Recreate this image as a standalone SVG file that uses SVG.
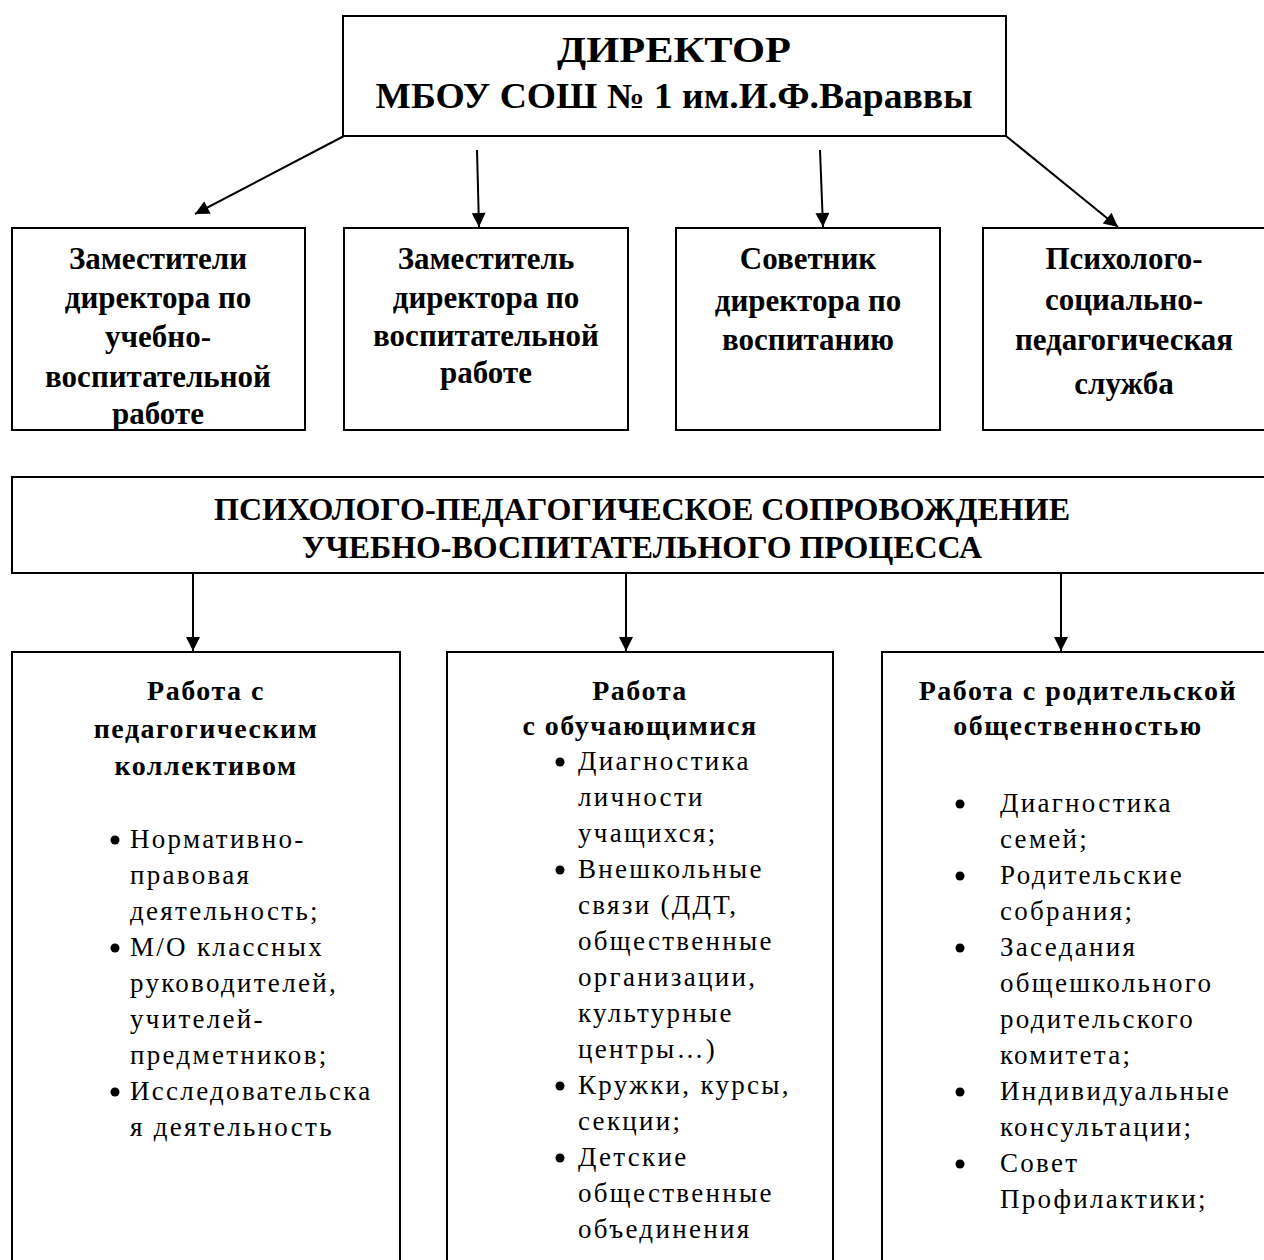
<svg xmlns="http://www.w3.org/2000/svg" width="1264" height="1260" viewBox="0 0 1264 1260">
<style>
rect.box{fill:#fff;stroke:#000;stroke-width:2}
.conn line{stroke:#000;stroke-width:2}
text{font-family:"Liberation Serif","Times New Roman",serif;fill:#000}
.t1{font-size:35px;font-weight:bold;text-anchor:middle}
.t2{font-size:31px;font-weight:bold;text-anchor:middle}
.t3{font-size:31px;font-weight:bold;text-anchor:middle}
.hd{font-size:28px;font-weight:bold;text-anchor:middle;letter-spacing:1.5px}
.li{font-size:27px;letter-spacing:2.3px}
circle.b{fill:#000}
</style>
<defs>
<marker id="ah" viewBox="0 0 10 10" refX="10" refY="5" markerWidth="18" markerHeight="14" markerUnits="userSpaceOnUse" orient="auto">
<path d="M0,0 L10,5 L0,10 z" fill="#000"/>
</marker>
</defs>

<g id="director">
<rect class="box" x="343" y="16" width="663" height="120"/>
<text class="t1" x="674" y="62" textLength="234" lengthAdjust="spacingAndGlyphs">ДИРЕКТОР</text>
<text class="t1" x="674" y="108" textLength="597" lengthAdjust="spacingAndGlyphs">МБОУ СОШ № 1 им.И.Ф.Вараввы</text>
</g>

<g id="deputy-uvr">
<rect class="box" x="12" y="228" width="293" height="202"/>
<text class="t2" x="158" y="269">Заместители</text>
<text class="t2" x="158" y="308">директора по</text>
<text class="t2" x="158" y="347">учебно-</text>
<text class="t2" x="158" y="387">воспитательной</text>
<text class="t2" x="158" y="424">работе</text>
</g>

<g id="deputy-vr">
<rect class="box" x="344" y="228" width="284" height="202"/>
<text class="t2" x="486" y="269">Заместитель</text>
<text class="t2" x="486" y="308">директора по</text>
<text class="t2" x="486" y="346">воспитательной</text>
<text class="t2" x="486" y="383">работе</text>
</g>

<g id="advisor">
<rect class="box" x="676" y="228" width="264" height="202"/>
<text class="t2" x="808" y="269">Советник</text>
<text class="t2" x="808" y="311">директора по</text>
<text class="t2" x="808" y="350">воспитанию</text>
</g>

<g id="psych-service">
<rect class="box" x="983" y="228" width="290" height="202"/>
<text class="t2" x="1124" y="269">Психолого-</text>
<text class="t2" x="1124" y="310">социально-</text>
<text class="t2" x="1124" y="350">педагогическая</text>
<text class="t2" x="1124" y="394">служба</text>
</g>

<g id="support">
<rect class="box" x="12" y="477" width="1262" height="96"/>
<text class="t3" x="642" y="520" textLength="856" lengthAdjust="spacingAndGlyphs">ПСИХОЛОГО-ПЕДАГОГИЧЕСКОЕ СОПРОВОЖДЕНИЕ</text>
<text class="t3" x="642" y="558" textLength="680" lengthAdjust="spacingAndGlyphs">УЧЕБНО-ВОСПИТАТЕЛЬНОГО ПРОЦЕССА</text>
</g>

<g id="work-teachers">
<rect class="box" x="12" y="652" width="388" height="640"/>
<text class="hd" x="206" y="700">Работа с</text>
<text class="hd" x="206" y="738">педагогическим</text>
<text class="hd" x="206" y="775">коллективом</text>
<circle class="b" cx="115" cy="840" r="4.5"/>
<circle class="b" cx="115" cy="948" r="4.5"/>
<circle class="b" cx="115" cy="1092" r="4.5"/>
<text class="li" x="130" y="848">Нормативно-</text>
<text class="li" x="130" y="884">правовая</text>
<text class="li" x="130" y="920">деятельность;</text>
<text class="li" x="130" y="956">М/О классных</text>
<text class="li" x="130" y="992">руководителей,</text>
<text class="li" x="130" y="1028">учителей-</text>
<text class="li" x="130" y="1064">предметников;</text>
<text class="li" x="130" y="1100">Исследовательска</text>
<text class="li" x="130" y="1136">я деятельность</text>
</g>

<g id="work-students">
<rect class="box" x="447" y="652" width="386" height="640"/>
<text class="hd" x="640" y="700">Работа</text>
<text class="hd" x="640" y="735">с обучающимися</text>
<circle class="b" cx="560" cy="762" r="4.5"/>
<circle class="b" cx="560" cy="870" r="4.5"/>
<circle class="b" cx="560" cy="1086" r="4.5"/>
<circle class="b" cx="560" cy="1158" r="4.5"/>
<text class="li" x="578" y="770">Диагностика</text>
<text class="li" x="578" y="806">личности</text>
<text class="li" x="578" y="842">учащихся;</text>
<text class="li" x="578" y="878">Внешкольные</text>
<text class="li" x="578" y="914">связи (ДДТ,</text>
<text class="li" x="578" y="950">общественные</text>
<text class="li" x="578" y="986">организации,</text>
<text class="li" x="578" y="1022">культурные</text>
<text class="li" x="578" y="1058">центры…)</text>
<text class="li" x="578" y="1094">Кружки, курсы,</text>
<text class="li" x="578" y="1130">секции;</text>
<text class="li" x="578" y="1166">Детские</text>
<text class="li" x="578" y="1202">общественные</text>
<text class="li" x="578" y="1238">объединения</text>
</g>

<g id="work-parents">
<rect class="box" x="882" y="652" width="392" height="640"/>
<text class="hd" x="1078" y="700">Работа с родительской</text>
<text class="hd" x="1078" y="735">общественностью</text>
<circle class="b" cx="960" cy="804" r="4.5"/>
<circle class="b" cx="960" cy="876" r="4.5"/>
<circle class="b" cx="960" cy="948" r="4.5"/>
<circle class="b" cx="960" cy="1092" r="4.5"/>
<circle class="b" cx="960" cy="1164" r="4.5"/>
<text class="li" x="1000" y="812">Диагностика</text>
<text class="li" x="1000" y="848">семей;</text>
<text class="li" x="1000" y="884">Родительские</text>
<text class="li" x="1000" y="920">собрания;</text>
<text class="li" x="1000" y="956">Заседания</text>
<text class="li" x="1000" y="992">общешкольного</text>
<text class="li" x="1000" y="1028">родительского</text>
<text class="li" x="1000" y="1064">комитета;</text>
<text class="li" x="1000" y="1100">Индивидуальные</text>
<text class="li" x="1000" y="1136">консультации;</text>
<text class="li" x="1000" y="1172">Совет</text>
<text class="li" x="1000" y="1208">Профилактики;</text>
</g>

<g id="connectors" class="conn">
<line x1="344" y1="136" x2="195" y2="214" marker-end="url(#ah)"/>
<line x1="477" y1="150" x2="479" y2="227" marker-end="url(#ah)"/>
<line x1="820" y1="150" x2="823" y2="227" marker-end="url(#ah)"/>
<line x1="1006" y1="136" x2="1118" y2="227" marker-end="url(#ah)"/>
<line x1="193" y1="573" x2="193" y2="651" marker-end="url(#ah)"/>
<line x1="626" y1="573" x2="626" y2="651" marker-end="url(#ah)"/>
<line x1="1061" y1="573" x2="1061" y2="651" marker-end="url(#ah)"/>
</g>
</svg>
